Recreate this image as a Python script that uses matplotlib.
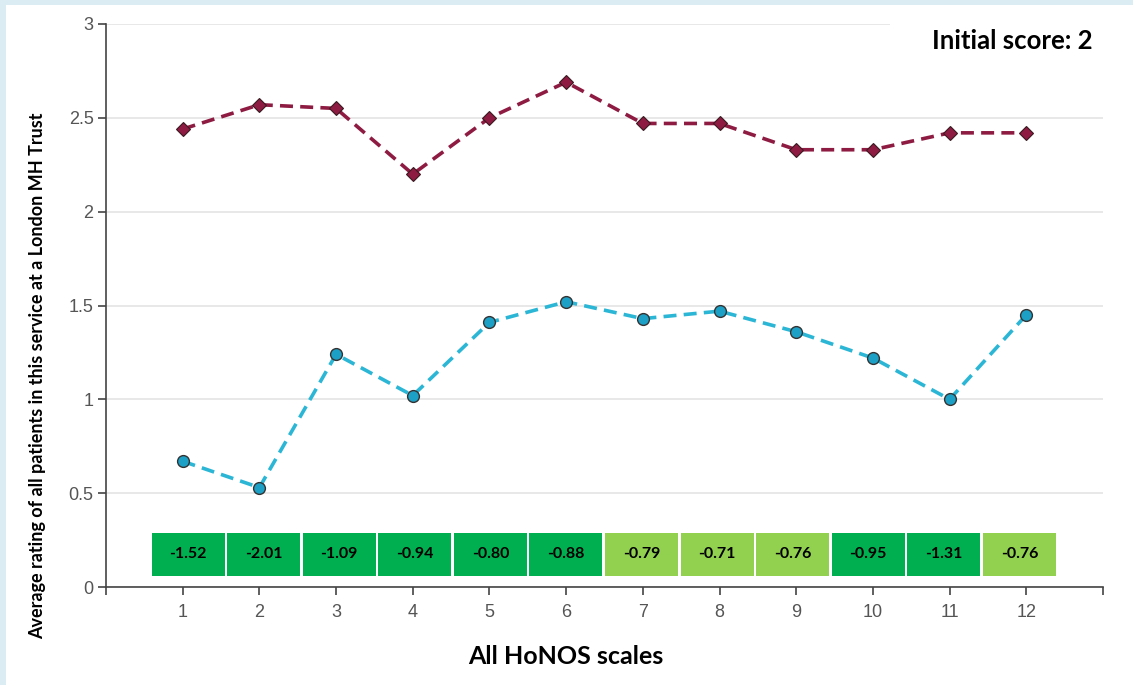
import numpy as np
import matplotlib.pyplot as plt
from matplotlib.patches import Rectangle

scales = np.arange(1, 13)
initial_rating = [2.44, 2.57, 2.55, 2.20, 2.50, 2.69, 2.47, 2.47, 2.33, 2.33, 2.42, 2.42]
current_rating = [0.67, 0.53, 1.24, 1.02, 1.41, 1.52, 1.43, 1.47, 1.36, 1.22, 1.00, 1.45]
change = [-1.52, -2.01, -1.09, -0.94, -0.80, -0.88, -0.79, -0.71, -0.76, -0.95, -1.31, -0.76]

dark_green = "#00b050"
light_green = "#92d050"
red = "#8e1b41"
blue_line = "#2cb6d6"
blue_marker = "#1ca0c6"

fig = plt.figure(figsize=(11.33, 6.85), dpi=100, facecolor="#dcecf3")
# white panel inside the light blue frame
fig.patches.append(Rectangle((6 / 1133, 0), 1, 680 / 685, transform=fig.transFigure,
                             facecolor="white", edgecolor="none", zorder=-1))

ax = fig.add_axes([106 / 1133, 98 / 685, 997 / 1133, 563 / 685])
ax.set_facecolor("white")

ax.set_xlim(0, 13)
ax.set_ylim(0, 3)

# gridlines
ax.set_axisbelow(True)
ax.yaxis.grid(True, color="#e4e4e4", linewidth=1.2)
ax.xaxis.grid(False)

# blank out the top gridline behind the score label
ax.add_patch(Rectangle((0.786, 0.95), 0.3, 0.083, transform=ax.transAxes,
                       facecolor="white", edgecolor="none", zorder=1, clip_on=False))

# change boxes
box_pos = 1.07 + 0.9855 * np.arange(len(change))
box_colors = [dark_green if c <= -0.80 else light_green for c in change]
ax.bar(box_pos, 0.229, bottom=0.059, width=0.952, color=box_colors, zorder=2)
for x, c in zip(box_pos, change):
    ax.text(x, 0.059 + 0.229 / 2, f"{c:.2f}", ha="center", va="center",
            fontsize=11.5, fontweight="bold", family="Lato", color="black", zorder=3)

ax.plot(scales, initial_rating, linestyle=(0, (3.6, 2.0)), color=red, linewidth=2.6,
        marker="D", markersize=7, markerfacecolor=red, markeredgecolor="#3a1a22",
        markeredgewidth=0.8, zorder=4)
ax.plot(scales, current_rating, linestyle=(0, (3.6, 2.0)), color=blue_line, linewidth=2.6,
        marker="o", markersize=8.5, markerfacecolor=blue_marker, markeredgecolor="#333333",
        markeredgewidth=1.0, zorder=4)

ax.set_xticks(np.arange(0, 14))
ax.set_xticklabels([""] + [str(s) for s in scales] + [""])
ax.set_yticks(np.arange(0, 3.01, 0.5))
ax.set_yticklabels(["0", "0.5", "1", "1.5", "2", "2.5", "3"])

for side in ["top", "right"]:
    ax.spines[side].set_visible(False)
for side in ["left", "bottom"]:
    ax.spines[side].set_color("#444444")
    ax.spines[side].set_linewidth(1.2)

ax.tick_params(axis="both", colors="#444444", length=6, width=1.2,
               labelsize=13, labelcolor="#555555")
ax.tick_params(axis="x", pad=6)
ax.tick_params(axis="y", pad=3)
for lab in ax.get_xticklabels() + ax.get_yticklabels():
    lab.set_family("Liberation Sans")

fig.text(566 / 1133, 1 - 656 / 685, "All HoNOS scales", ha="center", va="center",
         fontsize=18, fontweight="bold", family="Lato")
fig.text(38 / 1133, 1 - 376 / 685,
         "Average rating of all patients in this service at a London MH Trust",
         ha="center", va="center", rotation=90,
         fontsize=13, fontweight="bold", family="Lato")
fig.text(1093 / 1133, 1 - 41 / 685, "Initial score: 2", ha="right", va="center",
         fontsize=18.5, fontweight="bold", family="Lato", zorder=5)

fig.savefig("out.png", dpi=100, facecolor=fig.get_facecolor())
